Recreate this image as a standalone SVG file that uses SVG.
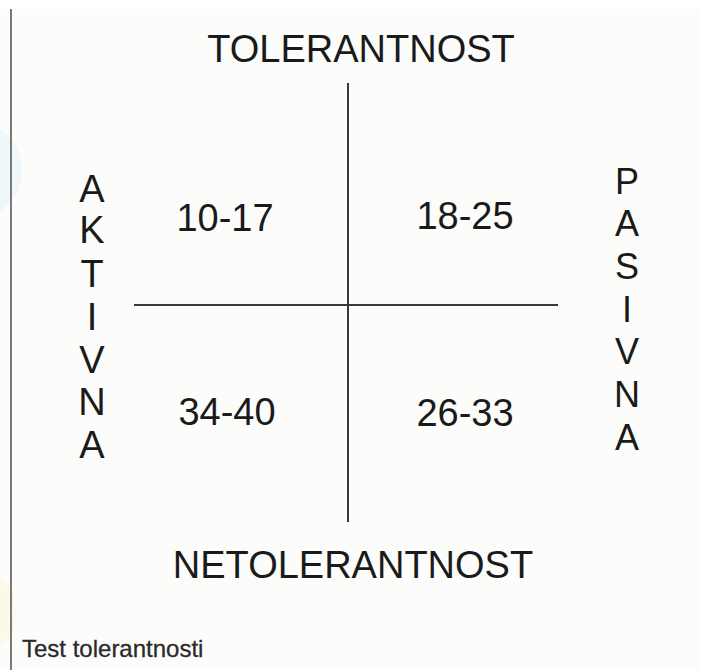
<svg xmlns="http://www.w3.org/2000/svg" width="701" height="670" viewBox="0 0 701 670">
<style>
.t{font-family:"Liberation Sans",Arial,sans-serif;fill:#1a1a1a;}
.big{font-size:38px;text-anchor:middle;}
.side{font-size:36px;text-anchor:middle;}
.ax{stroke:#3a3a3a;stroke-width:2;fill:none;}
</style>
<rect x="0" y="0" width="701" height="670" fill="#ffffff"/>
<rect x="0" y="9" width="701" height="661" fill="#fcfcfa"/>
<circle cx="-28" cy="170" r="50" fill="#f0f7fa"/>
<circle cx="-30" cy="612" r="46" fill="#fdf9e8"/>
<line x1="11" y1="9" x2="11" y2="670" stroke="#7a7a7a" stroke-width="2"/>
<g id="connectors">
<line class="ax" x1="348" y1="83" x2="348" y2="522"/>
<line class="ax" x1="134" y1="305" x2="558" y2="305"/>
</g>
<g id="top"><text class="t big" x="361" y="62">TOLERANTNOST</text></g>
<g id="bottom"><text class="t big" x="353" y="578">NETOLERANTNOST</text></g>
<g id="q1"><text class="t big" x="225" y="231">10-17</text></g>
<g id="q2"><text class="t big" x="465" y="229">18-25</text></g>
<g id="q3"><text class="t big" x="227" y="425">34-40</text></g>
<g id="q4"><text class="t big" x="465" y="426">26-33</text></g>
<g id="aktivna">
<text class="t big" x="92" y="202">A</text>
<text class="t big" x="92" y="243">K</text>
<text class="t big" x="92" y="287">T</text>
<text class="t big" x="92" y="330">I</text>
<text class="t big" x="92" y="373">V</text>
<text class="t big" x="92" y="415">N</text>
<text class="t big" x="92" y="458">A</text>
</g>
<g id="pasivna">
<text class="t side" x="627" y="194">P</text>
<text class="t side" x="627" y="236">A</text>
<text class="t side" x="627" y="279">S</text>
<text class="t side" x="627" y="322">I</text>
<text class="t side" x="627" y="364">V</text>
<text class="t side" x="627" y="407">N</text>
<text class="t side" x="627" y="450">A</text>
</g>
<g id="caption"><text class="t" x="22" y="657" style="font-size:24px;fill:#2a2a2a;stroke:#2a2a2a;stroke-width:0.3">Test tolerantnosti</text></g>
</svg>
